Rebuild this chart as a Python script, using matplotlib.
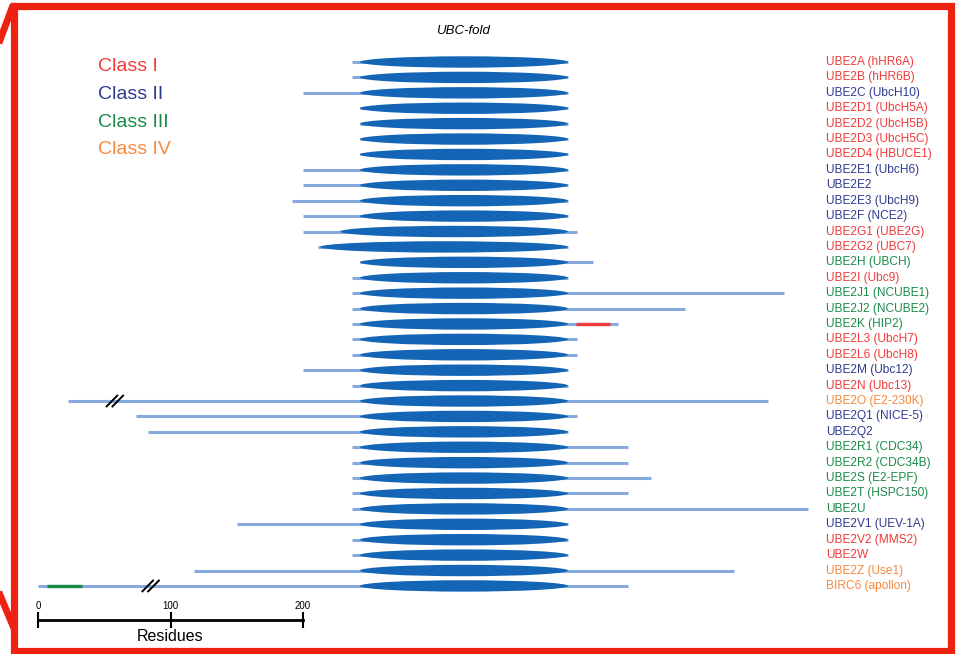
import matplotlib.pyplot as plt
from matplotlib.patches import Ellipse
from matplotlib.lines import Line2D

# Colours used for the four E2 classes
RED = '#ef3b3b'
BLUE = '#2f3a8f'
GREEN = '#198a48'
ORANGE = '#f6893d'
LINE_BLUE = '#86a9de'
FOLD_BLUE = '#1565b6'

# 1. Data (residue numbers)
names = [
    'UBE2A (hHR6A)', 'UBE2B (hHR6B)', 'UBE2C (UbcH10)', 'UBE2D1 (UbcH5A)',
    'UBE2D2 (UbcH5B)', 'UBE2D3 (UbcH5C)', 'UBE2D4 (HBUCE1)', 'UBE2E1 (UbcH6)',
    'UBE2E2', 'UBE2E3 (UbcH9)', 'UBE2F (NCE2)', 'UBE2G1 (UBE2G)',
    'UBE2G2 (UBC7)', 'UBE2H (UBCH)', 'UBE2I (Ubc9)', 'UBE2J1 (NCUBE1)',
    'UBE2J2 (NCUBE2)', 'UBE2K (HIP2)', 'UBE2L3 (UbcH7)', 'UBE2L6 (UbcH8)',
    'UBE2M (Ubc12)', 'UBE2N (Ubc13)', 'UBE2O (E2-230K)', 'UBE2Q1 (NICE-5)',
    'UBE2Q2', 'UBE2R1 (CDC34)', 'UBE2R2 (CDC34B)', 'UBE2S (E2-EPF)',
    'UBE2T (HSPC150)', 'UBE2U', 'UBE2V1 (UEV-1A)', 'UBE2V2 (MMS2)',
    'UBE2W', 'UBE2Z (Use1)', 'BIRC6 (apollon)',
]
classes = [
    'I', 'I', 'II', 'I', 'I', 'I', 'I', 'II', 'II', 'II', 'II', 'I',
    'I', 'III', 'I', 'III', 'III', 'III', 'I', 'I', 'II', 'I', 'IV', 'II',
    'II', 'III', 'III', 'III', 'III', 'III', 'II', 'I', 'I', 'IV', 'IV',
]
line_start = [
    237, 237, 200, 243, 243, 243, 243, 200, 200, 192, 200, 200,
    211, 243, 237, 237, 237, 237, 237, 237, 200, 237, 23, 74,
    83, 237, 237, 237, 237, 237, 150, 237, 237, 118, 0,
]
line_end = [
    400, 400, 400, 400, 400, 400, 400, 400, 400, 400, 400, 407,
    400, 419, 400, 563, 488, 438, 407, 407, 400, 400, 551, 407,
    400, 445, 445, 463, 445, 581, 400, 400, 400, 525, 445,
]
fold_start = [
    243, 243, 243, 243, 243, 243, 243, 243, 243, 243, 243, 228,
    213, 243, 243, 243, 243, 243, 243, 243, 243, 243, 243, 243,
    243, 243, 243, 243, 243, 243, 243, 243, 243, 243, 243,
]
fold_end = [400] * 35

# extra coloured segments: (row, start, end, colour)
extra_segments = [(17, 406, 432, RED), (34, 7, 33, GREEN)]
# break marks "//": (row, residue)
breaks = [(22, 58), (34, 85)]

class_colors = {'I': RED, 'II': BLUE, 'III': GREEN, 'IV': ORANGE}

# 2. Figure: one axes over the whole canvas, x = residues, y = row
fig = plt.figure(figsize=(9.61, 6.54), dpi=100)
ax = fig.add_axes([0, 0, 1, 1])
px_per_res = 1.325
x0_px = 38
row_px = 15.41
y0_px = 62
ax.set_xlim(-x0_px / px_per_res, (961 - x0_px) / px_per_res)
ax.set_ylim((654 - y0_px) / row_px, -y0_px / row_px)
ax.axis('off')

for i, name in enumerate(names):
    ax.plot([line_start[i], line_end[i]], [i, i], color=LINE_BLUE, lw=2.2,
            solid_capstyle='butt', zorder=1)
    w = fold_end[i] - fold_start[i]
    ax.add_patch(Ellipse(((fold_start[i] + fold_end[i]) / 2, i), w, 0.74,
                         facecolor=FOLD_BLUE, edgecolor='none', zorder=2))
    ax.text(595, i, name, color=class_colors[classes[i]], fontsize=8.6,
            va='center', ha='left', family='Liberation Sans')

for row, s, e, c in extra_segments:
    ax.plot([s, e], [row, row], color=c, lw=2.4, solid_capstyle='butt', zorder=3)

for row, xb in breaks:
    for dx in (-2.2, 2.2):
        ax.plot([xb + dx - 4, xb + dx + 4], [row + 0.35, row - 0.35],
                color='black', lw=1.4, zorder=4)

# legend of classes
for k, (lab, c) in enumerate([('Class I', RED), ('Class II', BLUE),
                              ('Class III', GREEN), ('Class IV', ORANGE)]):
    ax.text(45, 0.3 + k * 1.8, lab, color=c, fontsize=14, va='center',
            ha='left', family='Liberation Sans')

ax.text(321, -2.0, 'UBC-fold', fontsize=9.5, style='italic', ha='center',
        va='center', family='Liberation Sans')

# scale bar
ybar = (620 - y0_px) / row_px
ax.plot([0, 200], [ybar, ybar], color='black', lw=2, zorder=3)
for t in (0, 100, 200):
    ax.plot([t, t], [ybar - 0.45, ybar + 0.45], color='black', lw=1.5)
    ax.text(t, ybar - 0.6, str(t), fontsize=7, ha='center', va='bottom',
            family='Liberation Sans')
ax.text(100, ybar + 1.1, 'Residues', fontsize=11.5, ha='center', va='center',
        family='Liberation Sans')

# red frame (pixel coordinates)
def px(x, y):
    return x / 961, 1 - y / 654

frame = [px(13.5, 6), px(950.5, 6), px(950.5, 650.5), px(13.5, 650.5), px(13.5, 6)]
fig.add_artist(Line2D([p[0] for p in frame], [p[1] for p in frame],
                      color='#ee2211', lw=5.2, solid_joinstyle='miter',
                      transform=fig.transFigure))
for a, b in [((0, 40), (12, 8)), ((0, 595), (13, 626))]:
    pa, pb = px(*a), px(*b)
    fig.add_artist(Line2D([pa[0], pb[0]], [pa[1], pb[1]], color='#ee2211',
                          lw=5, transform=fig.transFigure))

plt.savefig('out.png', dpi=100)
plt.close()
